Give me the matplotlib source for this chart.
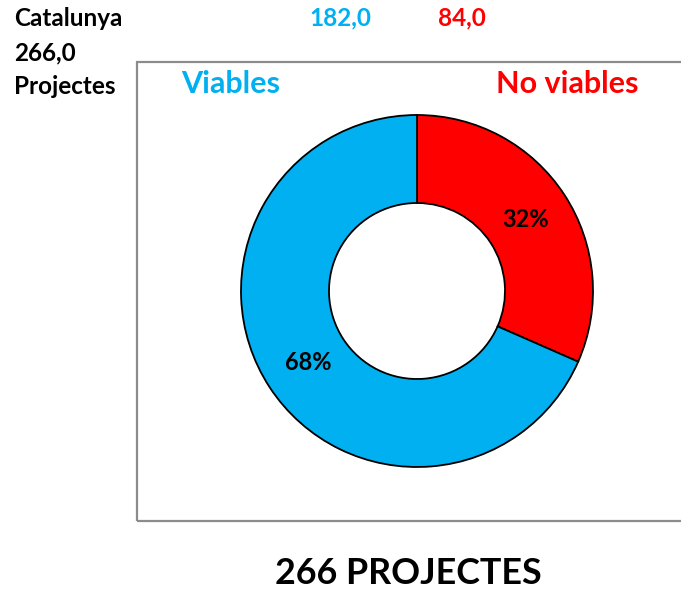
import matplotlib

matplotlib.use("Agg")
import matplotlib.pyplot as plt  # noqa: E402
import numpy as np  # noqa: E402
from matplotlib.patches import Rectangle  # noqa: E402

region = "Catalunya"
total = 266.0
labels = ["No viables", "Viables"]
values = [84.0, 182.0]
colors = ["#FF0000", "#00B0F0"]

plt.rcParams["font.family"] = ["Lato", "DejaVu Sans"]
plt.rcParams["font.weight"] = "bold"

W, H = 681, 591
fig = plt.figure(figsize=(W / 100, H / 100), dpi=100)


def px(x, y):
    return x / W, 1 - y / H


def num(v):
    return f"{v:.1f}".replace(".", ",")


# plot frame (runs off the right edge)
x0, y0 = px(137, 521)
fig.patches.append(Rectangle((x0, y0), 1.0, (521 - 62) / H, transform=fig.transFigure,
                             fill=False, edgecolor="#8c8c8c", linewidth=1.6))

# donut
cx, cy, r = 417, 291, 176
ax = fig.add_axes([(cx - r) / W, 1 - (cy + r) / H, 2 * r / W, 2 * r / H])
ax.pie(values, colors=colors, startangle=90, counterclock=False, radius=1.0,
       wedgeprops=dict(width=0.5, edgecolor="black", linewidth=1.3))
ax.set_aspect("equal")
ax.set_xlim(-1.0, 1.0)
ax.set_ylim(-1.0, 1.0)
ax.axis("off")

tot = sum(values)
ang = 90.0
for v in values:
    span = 360.0 * v / tot
    mid = np.deg2rad(ang - span / 2)
    ax.text(0.74 * np.cos(mid), 0.74 * np.sin(mid), f"{v / tot:.0%}", ha="center",
            va="center", fontsize=17, fontweight="bold")
    ang -= span

# texts
fig.text(*px(14, 19), region, fontsize=17.5, ha="left", va="center", fontweight="bold")
fig.text(*px(14, 53), num(total), fontsize=17.5, ha="left", va="center", fontweight="bold")
fig.text(*px(14, 87), "Projectes", fontsize=17.5, ha="left", va="center", fontweight="bold")
fig.text(*px(340, 18), num(values[1]), color=colors[1], fontsize=17.5,
         ha="center", va="center", fontweight="bold")
fig.text(*px(462, 18), num(values[0]), color=colors[0], fontsize=17.5,
         ha="center", va="center", fontweight="bold")
fig.text(*px(231, 84), labels[1], color=colors[1], fontsize=22, ha="center", va="center",
         fontweight="bold")
fig.text(*px(567, 84), labels[0], color=colors[0], fontsize=22, ha="center", va="center",
         fontweight="bold")
fig.text(*px(408, 573), f"{int(total)} PROJECTES", fontsize=25.8, ha="center", va="center",
         fontweight="bold")

fig.savefig("out.png", dpi=100)
plt.close(fig)
